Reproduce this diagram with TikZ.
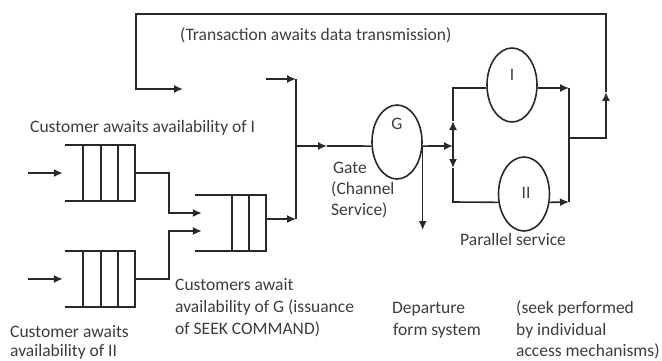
\documentclass[tikz,border=0pt]{standalone}
\usepackage{fontspec}
\setmainfont{Carlito}
\usetikzlibrary{arrows.meta,shapes.geometric,calc}
\definecolor{ink}{RGB}{40,40,40}
\definecolor{txtc}{RGB}{60,60,60}
\begin{document}
\begin{tikzpicture}[x=1pt,y=-1pt,
  ln/.style={draw=ink,line width=1.6pt},
  arr/.style={ln,-{Latex[length=9pt,width=8pt]}},
  srv/.style={ellipse,draw=ink,line width=1.6pt,minimum width=50pt,minimum height=74pt,inner sep=0pt},
  txt/.style={font=\fontsize{17.5}{21}\selectfont,text=txtc,inner sep=0pt,anchor=base west},
  lbl/.style={font=\fontsize{17.5}{21}\selectfont,text=txtc,inner sep=0pt},
  qbox/.style={rectangle,minimum height=56pt,inner sep=0pt}]
\useasboundingbox (0,0) rectangle (662,361);

% queues
\node[qbox,minimum width=70pt] (QI) at (100,173) {};
\node[qbox,minimum width=70pt] (QII) at (100,279) {};
\node[qbox,minimum width=71pt] (QG) at (230.5,223) {};
\foreach \q/\ds in {QI/{17,34,52},QII/{17,34,52},QG/{17,34}}{
  \draw[ln] (\q.north west) -- (\q.north east) -- (\q.south east) -- (\q.south west);
  \foreach \d in \ds {\draw[ln] ($(\q.north east)+(-\d,0)$) -- ($(\q.south east)+(-\d,0)$);}
}

% servers
\node[srv] (G) at (397,142) {};
\node[srv] (SI) at (512,85) {};
\node[srv,minimum width=51pt] (SII) at (524,194) {};
\node[lbl] (Gl) at (397,124) {G};
\node[lbl] (Il) at (512,75) {I};
\node[lbl] (IIl) at (526,193) {II};

% inputs to queues
\coordinate (inI) at (28,173);
\coordinate (inII) at (28,279);
\draw[arr] (inI) -- ($(QI.west)+(-2,0)$);
\draw[arr] (inII) -- ($(QII.west)+(-2,0)$);

% queues I and II to queue G
\coordinate (jI) at (169,213);
\coordinate (jII) at (169,231);
\draw[arr] (QI.east) -| (jI) -- ($(QG.west)+(7,-10)$);
\draw[arr] (QII.east) -| (jII) -- ($(QG.west)+(7,8)$);

% merge to gate
\coordinate (m0) at (296,79);
\coordinate (m1) at (296,219);
\coordinate (mg) at (296,146);
\coordinate (s0) at (266,79);
\coordinate (ga) at (327,146);
\draw[arr] (s0) -- (m0);
\draw[arr] ($(QG.east)+(0,-4)$) -- (m1);
\draw[ln] (m0) -- (m1);
\draw[arr] (mg) -- (ga);
\draw[ln] (ga) -- (G.189);

% gate out, departure
\coordinate (b0) at (453,146);
\coordinate (dep) at (422,230);
\draw[arr] (G.-9) -- (b0);
\draw[arr] (G.-9) -- (G.-9 |- dep);

% branch to parallel servers
\coordinate (bu) at (453,88);
\coordinate (bd) at (453,202);
\coordinate (bua) at (453,121);
\coordinate (bda) at (453,168);
\draw[arr] (b0) -- (bua);
\draw[arr] (b0) -- (bda);
\draw[ln] (bua) -- (bu) -- (SI.west |- bu);
\draw[ln] (bda) -- (bd) -- (SII.198);

% outputs of parallel servers
\coordinate (ru) at (569,88);
\coordinate (rd) at (569,202);
\coordinate (ro) at (569,138);
\coordinate (r1) at (606,138);
\coordinate (r2) at (606,92);
\coordinate (r3) at (606,14);
\coordinate (r4) at (136,14);
\coordinate (r5) at (136,89);
\coordinate (r6) at (183,89);
\draw[arr] (SI.east |- ru) -- (ru);
\draw[arr] (SII.-18) -- (rd);
\draw[ln] (ru) -- (rd);
\draw[arr] (ro) -- (r1) -- (r2);
\draw[arr] (r2) -- (r3) -- (r4) -- (r5) -- (r6);

% texts
\node[txt] (t1) at (180,40.5) {(Transaction awaits data transmission)};
\node[txt] (t2) at (30,132.5) {Customer awaits availability of I};
\node[txt] (t3a) at (333,173.5) {Gate};
\node[txt] (t3b) at (331,194.5) {(Channel};
\node[txt] (t3c) at (331,215.5) {Service)};
\node[txt] (t4) at (460,245.5) {Parallel service};
\node[txt] (t5a) at (175,290.5) {Customers await};
\node[txt] (t5b) at (175,312.5) {availability of G (issuance};
\node[txt] (t5c) at (175,334.5) {of SEEK COMMAND)};
\node[txt] (t6a) at (10,337) {Customer awaits};
\node[txt] (t6b) at (10,356.5) {availability of II};
\node[txt] (t7a) at (392,313) {Departure};
\node[txt] (t7b) at (393,335) {form system};
\node[txt] (t8a) at (516,313) {(seek performed};
\node[txt] (t8b) at (516,335) {by individual};
\node[txt] (t8c) at (516,356) {access mechanisms)};
\end{tikzpicture}
\end{document}
